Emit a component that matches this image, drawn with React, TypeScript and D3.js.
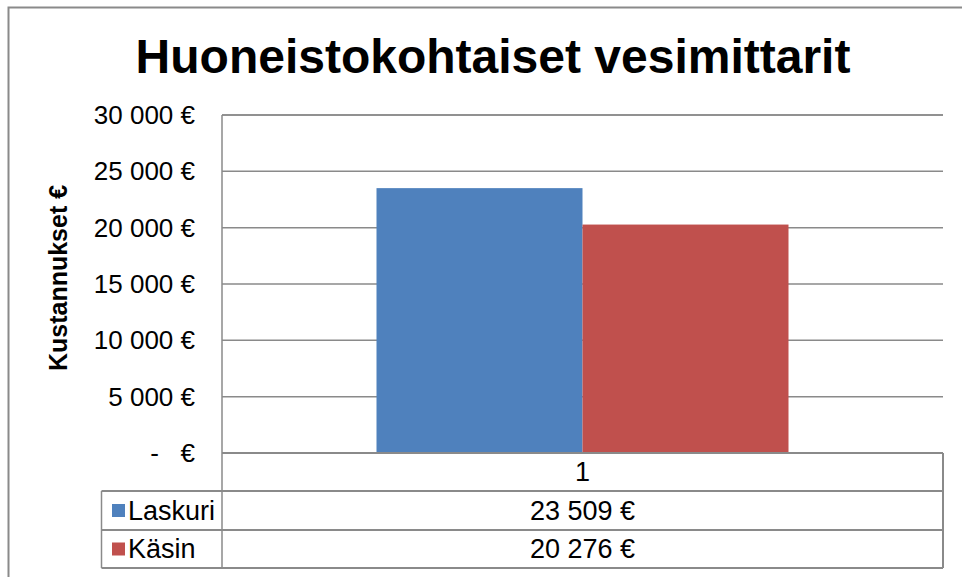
import React, { useRef, useEffect } from 'react';
import * as d3 from 'd3';

const categories = ['1'];
const seriesNames = ['Laskuri', 'Käsin'];
const seriesValues = [23509, 20276];
const seriesColors = ['#4F81BD', '#C0504D'];
const yTicks = [0, 5000, 10000, 15000, 20000, 25000, 30000];

const fiLocale = d3.formatLocale({ decimal: ',', thousands: '\u00a0', grouping: [3], currency: ['', ' €'] });
const fmtEuro = (v: number) => (v === 0 ? '-   €' : fiLocale.format(',.0f')(v).replace(/\u00a0/g, ' ') + ' €');

const App = () => {
    const svgRef = useRef<SVGSVGElement>(null);

    useEffect(() => {
        if (!svgRef.current) return;
        const svg = d3.select(svgRef.current);
        svg.selectAll('*').remove();

        const width = 962;
        const height = 577;
        const plot = { left: 222, right: 943, top: 115, bottom: 453 };
        const rowsY = [453, 491, 530, 568];
        const tableLeft = 101.5;
        const grey = '#8a8a8a';
        const font = '"Liberation Sans", Arial, sans-serif';

        svg.attr('width', width).attr('height', height);

        // chart frame (only top and left edges fall inside the picture)
        svg.append('rect')
            .attr('x', 8.5).attr('y', 7.5)
            .attr('width', 1000).attr('height', 700)
            .attr('fill', 'white')
            .attr('stroke', grey)
            .attr('stroke-width', 2);

        // title
        svg.append('text')
            .attr('x', 493).attr('y', 73)
            .attr('text-anchor', 'middle')
            .style('font-family', font)
            .style('font-size', '48px')
            .style('font-weight', 'bold')
            .text('Huoneistokohtaiset vesimittarit');

        // scales
        const y = d3.scaleLinear().domain([0, 30000]).range([plot.bottom, plot.top]);
        const x0 = d3.scaleBand().domain(categories).range([plot.left, plot.right]);
        const x1 = d3.scaleBand().domain(seriesNames)
            .range([0, x0.bandwidth()])
            .paddingInner(0).paddingOuter(0.75);

        // gridlines
        svg.append('g').selectAll('line')
            .data(yTicks.filter(t => t > 0))
            .enter().append('line')
            .attr('x1', plot.left).attr('x2', plot.right)
            .attr('y1', d => y(d)).attr('y2', d => y(d))
            .attr('stroke', grey).attr('stroke-width', 1.5);

        // y tick labels
        svg.append('g').selectAll('text')
            .data(yTicks)
            .enter().append('text')
            .attr('x', 195)
            .attr('y', d => y(d))
            .attr('dy', '0.35em')
            .attr('text-anchor', 'end')
            .style('font-family', font)
            .style('font-size', '26px')
            .style('white-space', 'pre')
            .text(d => fmtEuro(d));

        // y axis title
        svg.append('text')
            .attr('transform', `translate(67, 278) rotate(-90)`)
            .attr('text-anchor', 'middle')
            .style('font-family', font)
            .style('font-size', '25px')
            .style('font-weight', 'bold')
            .text('Kustannukset €');

        // bars
        categories.forEach(cat => {
            svg.append('g')
                .attr('transform', `translate(${x0(cat)}, 0)`)
                .selectAll('rect')
                .data(seriesNames.map((name, i) => ({ name, value: seriesValues[i], color: seriesColors[i] })))
                .enter().append('rect')
                .attr('x', d => x1(d.name) as number)
                .attr('width', x1.bandwidth())
                .attr('y', d => y(d.value))
                .attr('height', d => y(0) - y(d.value))
                .attr('fill', d => d.color);
        });

        // plot area edges
        svg.append('line')
            .attr('x1', plot.left).attr('x2', plot.left)
            .attr('y1', plot.top).attr('y2', rowsY[3])
            .attr('stroke', grey).attr('stroke-width', 1.5);
        svg.append('line')
            .attr('x1', plot.left).attr('x2', plot.right)
            .attr('y1', plot.top).attr('y2', plot.top)
            .attr('stroke', grey).attr('stroke-width', 1.5);

        // data table
        const tbl = svg.append('g');
        tbl.selectAll('line.h')
            .data(rowsY)
            .enter().append('line')
            .attr('x1', (d, i) => (i === 0 ? plot.left : tableLeft))
            .attr('x2', plot.right)
            .attr('y1', d => d).attr('y2', d => d)
            .attr('stroke', grey).attr('stroke-width', 2);
        tbl.append('line')
            .attr('x1', tableLeft).attr('x2', tableLeft)
            .attr('y1', rowsY[1]).attr('y2', rowsY[3])
            .attr('stroke', grey).attr('stroke-width', 1.5);
        tbl.append('line')
            .attr('x1', plot.right).attr('x2', plot.right)
            .attr('y1', rowsY[0]).attr('y2', rowsY[3])
            .attr('stroke', grey).attr('stroke-width', 2);

        const midX = (x0(categories[0]) as number) + x0.bandwidth() / 2;

        categories.forEach(cat => {
            tbl.append('text')
                .attr('x', (x0(cat) as number) + x0.bandwidth() / 2)
                .attr('y', (rowsY[0] + rowsY[1]) / 2)
                .attr('dy', '0.35em')
                .attr('text-anchor', 'middle')
                .style('font-family', font)
                .style('font-size', '27px')
                .text(cat);
        });

        seriesNames.forEach((name, i) => {
            const cy = (rowsY[i + 1] + rowsY[i + 2]) / 2;
            tbl.append('rect')
                .attr('x', 112).attr('y', cy - 6.5)
                .attr('width', 13).attr('height', 13)
                .attr('fill', seriesColors[i]);
            tbl.append('text')
                .attr('x', 128).attr('y', cy)
                .attr('dy', '0.35em')
                .style('font-family', font)
                .style('font-size', '27px')
                .text(name);
            tbl.append('text')
                .attr('x', midX)
                .attr('y', cy)
                .attr('dy', '0.35em')
                .attr('text-anchor', 'middle')
                .style('font-family', font)
                .style('font-size', '27px')
                .text(fmtEuro(seriesValues[i]));
        });
    }, []);

    return (
        <svg ref={svgRef} style={{ position: 'absolute', left: 0, top: 0 }}></svg>
    );
};

export default App;
